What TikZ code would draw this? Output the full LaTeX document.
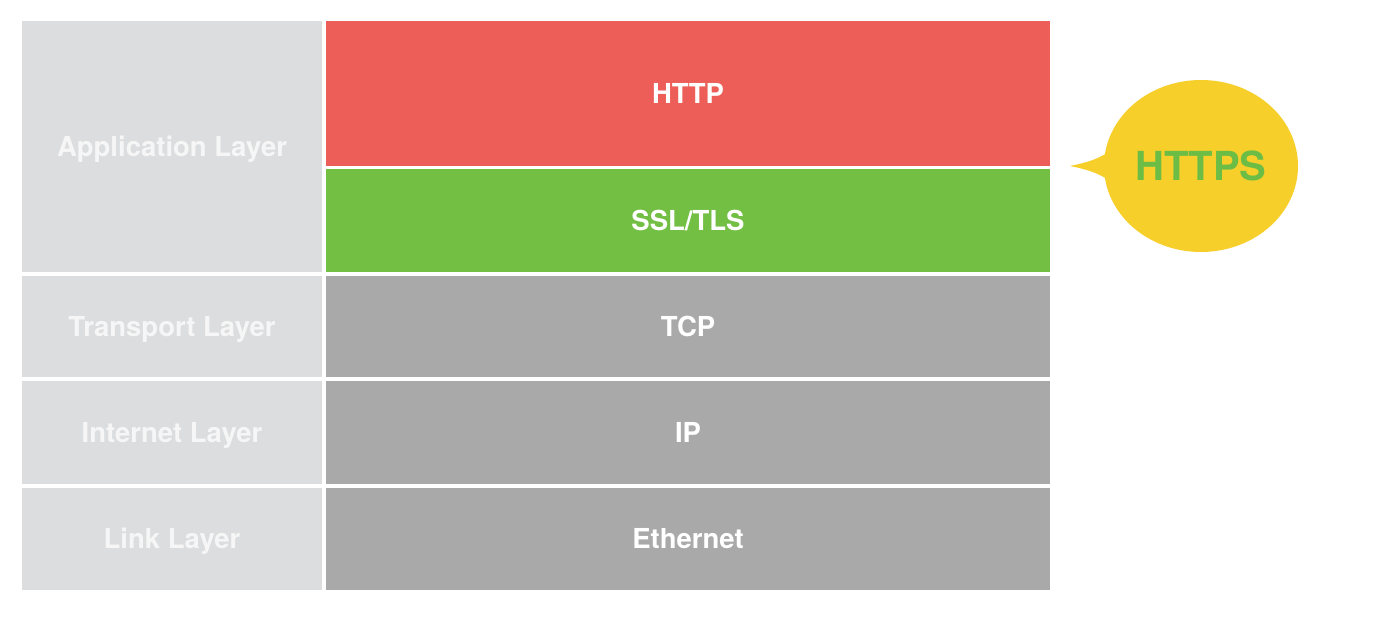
\documentclass[tikz,border=0pt]{standalone}
\usepackage{fontspec}
\setmainfont{TeX Gyre Heros}
\usetikzlibrary{shapes.geometric}
\definecolor{cred}{HTML}{EC5E57}
\definecolor{cgreen}{HTML}{72BF44}
\definecolor{cgray}{HTML}{A8A9A8}
\definecolor{clight}{HTML}{DCDDDE}
\definecolor{cyellow}{HTML}{F6CF2A}
\definecolor{ctext}{HTML}{6CBD45}
\definecolor{clabel}{HTML}{F6F6F6}
\begin{document}
\begin{tikzpicture}[x=1pt,y=-1pt,
  cell/.style={rectangle,inner sep=0pt,outer sep=0pt,font=\fontsize{27.5}{30}\selectfont\bfseries,text=white,text height=19.7pt,text depth=0pt},
  layer/.style={cell,fill=clight,text=clabel,minimum width=300pt},
  proto/.style={cell,minimum width=724pt}]
\useasboundingbox (0,0) rectangle (1384,620);
\fill[white] (0,0) rectangle (1384,620);
% left column
\node[layer,minimum height=251pt] (app) at (172,146.5) {Application Layer};
\node[layer,minimum height=101pt] (trans) at (172,326.5) {Transport Layer};
\node[layer,minimum height=103pt] (inet) at (172,432.5) {Internet Layer};
\node[layer,minimum height=102pt] (link) at (172,539) {Link Layer};
% right column
\node[proto,fill=cred,minimum height=145pt] (http) at (688,93.5) {HTTP};
\node[proto,fill=cgreen,minimum height=103pt] (ssl) at (688,220.5) {SSL/TLS};
\node[proto,fill=cgray,minimum height=101pt] (tcp) at (688,326.5) {TCP};
\node[proto,fill=cgray,minimum height=103pt] (ip) at (688,432.5) {IP};
\node[proto,fill=cgray,minimum height=102pt] (eth) at (688,539) {Ethernet};
% bubble
\node[ellipse,fill=cyellow,inner sep=0pt,outer sep=0pt,minimum width=194pt,minimum height=172pt,
  text=ctext,font=\fontsize{40}{44}\selectfont\bfseries,text height=28.7pt,text depth=0pt] (https) at (1201,166) {HTTPS};
\coordinate (tip) at (1070,166);
\fill[cyellow] (tip) .. controls (1085,163) and (1095,160) .. (https.173) -- (https.187) .. controls (1095,172) and (1085,169) .. (tip) -- cycle;
\end{tikzpicture}
\end{document}
